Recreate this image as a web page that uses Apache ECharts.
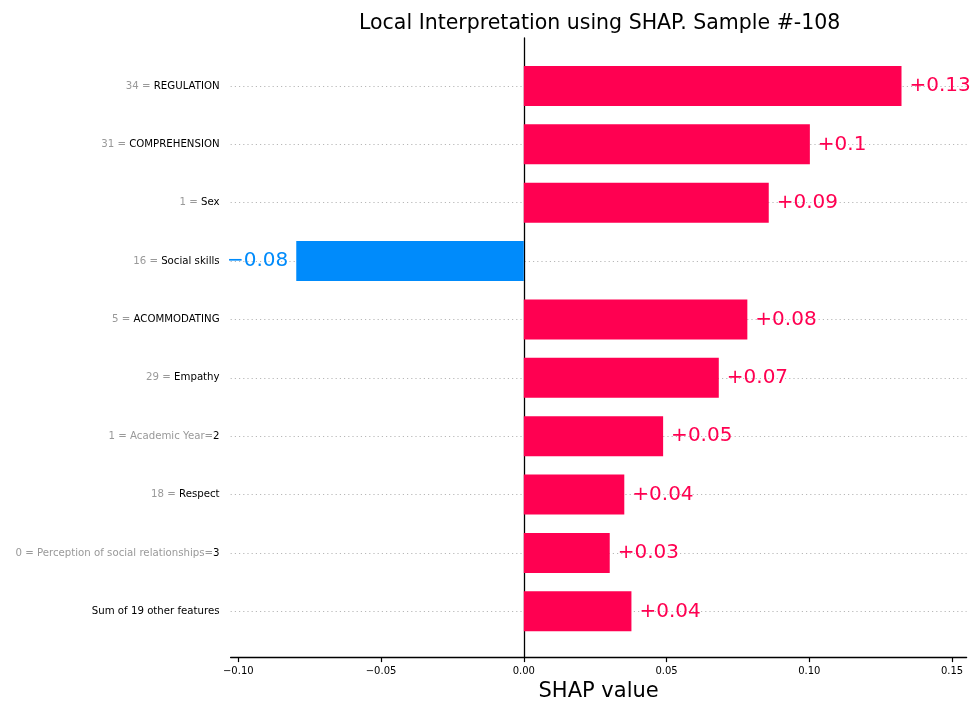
<!DOCTYPE html>
<html>
<head>
<meta charset="utf-8">
<title>Local Interpretation using SHAP</title>
<script src="https://cdn.jsdelivr.net/npm/echarts@6/dist/echarts.min.js"></script>
<style>
  html, body { margin: 0; padding: 0; background: #fff; }
  #chart { width: 974px; height: 707px; }
</style>
</head>
<body>
<div id="chart"></div>
<script>
// Feature labels: grey part (feature value and prefix) and dark part (name)
const labelGrey = ['34 = ', '31 = ', '1 = ', '16 = ', '5 = ', '29 = ', '1 = Academic Year=', '18 = ', '0 = Perception of social relationships=', ''];
const labelDark = ['REGULATION', 'COMPREHENSION', 'Sex', 'Social skills', 'ACOMMODATING', 'Empathy', '2', 'Respect', '3', 'Sum of 19 other features'];
// SHAP contribution of each feature
const shapValues = [0.1323, 0.1002, 0.0858, -0.0797, 0.0783, 0.0683, 0.0488, 0.0352, 0.0301, 0.0377];
// Ticks on the SHAP value axis
const xTicks = [-0.10, -0.05, 0.00, 0.05, 0.10, 0.15];

const categories = labelGrey.map((g, i) => g + labelDark[i]);

const POS = '#ff0051';
const NEG = '#008bfb';
const FONT = 'DejaVu Sans';

const X_MIN = -0.1027, X_MAX = 0.1551;
const LEFT = 230.6, RIGHT = 974 - 966.6;

function fmtShap(v) {
  let s = Math.abs(v).toFixed(2).replace(/0+$/, '').replace(/\.$/, '');
  return (v < 0 ? '\u2212' : '+') + s;
}
function fmtTick(v) {
  const s = Math.abs(v).toFixed(2);
  return (v < 0 ? '\u2212' : '') + s;
}

const chart = echarts.init(document.getElementById('chart'), null, { renderer: 'canvas' });

chart.setOption({
  backgroundColor: '#ffffff',
  animation: false,
  textStyle: { fontFamily: FONT },
  title: {
    text: 'Local Interpretation using SHAP. Sample #-108',
    left: 354,
    top: 8,
    textStyle: { fontFamily: FONT, fontSize: 20.5, fontWeight: 'normal', color: '#000' }
  },
  grid: [
    // bars and feature rows
    { left: LEFT, right: RIGHT, top: 86, height: 525.3, containLabel: false },
    // frame: zero line and value axis
    { left: LEFT, right: RIGHT, top: 38, height: 621.3, containLabel: false }
  ],
  xAxis: [
    {
      gridIndex: 0, type: 'value', min: X_MIN, max: X_MAX,
      axisLine: { show: false }, axisTick: { show: false },
      axisLabel: { show: false }, splitLine: { show: false }
    },
    {
      gridIndex: 1, type: 'value', min: X_MIN, max: X_MAX,
      axisLine: { show: true, lineStyle: { color: '#000', width: 1.3 } },
      axisTick: { show: true, length: 5, lineStyle: { color: '#000', width: 1.2 }, customValues: xTicks },
      axisLabel: {
        show: true, margin: 9, fontSize: 10, color: '#000', fontFamily: FONT,
        customValues: xTicks, formatter: fmtTick
      },
      splitLine: { show: false },
      name: 'SHAP value',
      nameLocation: 'middle',
      nameGap: 22,
      nameTextStyle: { fontFamily: FONT, fontSize: 21, color: '#000' }
    }
  ],
  yAxis: [
    {
      gridIndex: 0, type: 'category', data: categories, inverse: true, boundaryGap: false,
      axisLine: { show: false }, axisTick: { show: false },
      axisLabel: {
        interval: 0, margin: 11,
        formatter: function (v, i) {
          const g = labelGrey[i], d = labelDark[i];
          return (g ? '{g|' + g + '}' : '') + '{d|' + d + '}';
        },
        rich: {
          g: { fontFamily: FONT, fontSize: 10.2, color: '#999999' },
          d: { fontFamily: FONT, fontSize: 10.2, color: '#000' }
        }
      },
      splitLine: { show: true, interval: 0, lineStyle: { color: '#b8b8b8', type: [1.2, 3], width: 1 } }
    },
    {
      gridIndex: 1, type: 'value', min: 0, max: 1,
      axisLine: { show: true, onZero: true, lineStyle: { color: '#000', width: 1.3 } },
      axisTick: { show: false }, axisLabel: { show: false }, splitLine: { show: false }
    }
  ],
  series: [
    {
      type: 'bar',
      xAxisIndex: 0, yAxisIndex: 0,
      barWidth: 40,
      clip: false,
      z: 3,
      data: shapValues.map(v => ({
        value: v,
        itemStyle: { color: v < 0 ? NEG : POS },
        label: {
          show: true,
          position: v < 0 ? 'left' : 'right',
          distance: 8,
          color: v < 0 ? NEG : POS,
          fontFamily: FONT,
          fontSize: 20,
          formatter: p => fmtShap(p.value)
        }
      }))
    }
  ]
});
</script>
</body>
</html>
